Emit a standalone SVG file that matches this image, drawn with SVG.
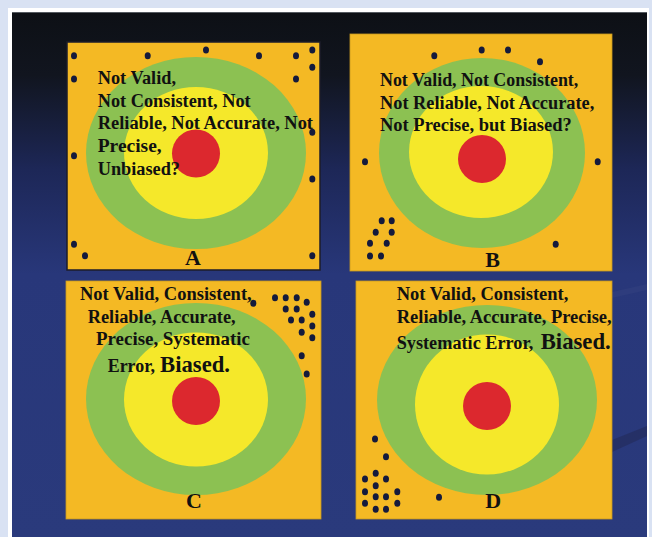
<svg xmlns="http://www.w3.org/2000/svg" width="652" height="537" viewBox="0 0 652 537">
<defs>
<linearGradient id="bg" x1="0" y1="12" x2="0" y2="537" gradientUnits="userSpaceOnUse">
<stop offset="0" stop-color="#0d1015"/>
<stop offset="0.12" stop-color="#11151f"/>
<stop offset="0.3" stop-color="#1d2757"/>
<stop offset="0.5" stop-color="#28377a"/>
<stop offset="1" stop-color="#2a3a7c"/>
</linearGradient>
</defs>
<style>
.panel{fill:#f4b924}
.g{fill:#8cc152}
.y{fill:#f5e82a}
.r{fill:#dc282e}
.dot{fill:#141a3c}
.t{font-family:"Liberation Serif","Times New Roman",serif;font-weight:bold;font-size:18px;fill:#111111}
.big{font-size:22.5px}
.lbl{font-family:"Liberation Serif","Times New Roman",serif;font-weight:bold;font-size:22px;fill:#111111;text-anchor:middle}
</style>
<rect x="0" y="0" width="652" height="537" fill="#d9e2f3"/>
<rect x="8" y="8" width="641" height="529" fill="#ffffff"/>
<rect x="12" y="12" width="635" height="525" fill="url(#bg)"/>
<line x1="12" y1="12.5" x2="647" y2="12.5" stroke="#555a60" stroke-width="1"/>
<polygon points="612,440 647,426 647,436 612,452" fill="#232c5e" opacity="0.7"/>
<polygon points="612,292 647,284 647,290 612,298" fill="#33427f" opacity="0.5"/>

<g id="panel-A">
<rect class="panel" x="67" y="42" width="253" height="228" stroke="#1d1d2a" stroke-width="1.5"/>
<ellipse class="g" cx="196" cy="153" rx="110" ry="96"/>
<ellipse class="y" cx="196" cy="153" rx="72" ry="66"/>
<circle class="r" cx="196" cy="153.5" r="24"/>
<g class="dots">
<ellipse class="dot" cx="74" cy="55.7" rx="3" ry="3.5"/>
<ellipse class="dot" cx="147.7" cy="55.7" rx="3" ry="3.5"/>
<ellipse class="dot" cx="206" cy="50" rx="3" ry="3.5"/>
<ellipse class="dot" cx="259" cy="55.7" rx="3" ry="3.5"/>
<ellipse class="dot" cx="296" cy="55.7" rx="3" ry="3.5"/>
<ellipse class="dot" cx="312.3" cy="50" rx="3" ry="3.5"/>
<ellipse class="dot" cx="312.3" cy="67.3" rx="3" ry="3.5"/>
<ellipse class="dot" cx="74" cy="79" rx="3" ry="3.5"/>
<ellipse class="dot" cx="296" cy="79" rx="3" ry="3.5"/>
<ellipse class="dot" cx="312.3" cy="132.3" rx="3" ry="3.5"/>
<ellipse class="dot" cx="74" cy="155.7" rx="3" ry="3.5"/>
<ellipse class="dot" cx="312.3" cy="179" rx="3" ry="3.5"/>
<ellipse class="dot" cx="74" cy="244.3" rx="3" ry="3.5"/>
<ellipse class="dot" cx="85" cy="255.7" rx="3" ry="3.5"/>
<ellipse class="dot" cx="312.3" cy="255.7" rx="3" ry="3.5"/>
</g>
<text class="t" x="97.7" y="84.3" textLength="78.3" lengthAdjust="spacingAndGlyphs">Not Valid,</text>
<text class="t" x="97.7" y="106.8" textLength="153" lengthAdjust="spacingAndGlyphs">Not Consistent, Not</text>
<text class="t" x="97.7" y="129.3" textLength="215.3" lengthAdjust="spacingAndGlyphs">Reliable, Not Accurate, Not</text>
<text class="t" x="97.7" y="152.3" textLength="64" lengthAdjust="spacingAndGlyphs">Precise,</text>
<text class="t" x="97.7" y="175" textLength="82.3" lengthAdjust="spacingAndGlyphs">Unbiased?</text>
<text class="lbl" x="193" y="265">A</text>
</g>

<g id="panel-B">
<rect class="panel" x="350" y="34" width="262" height="237" stroke="#c99a20" stroke-width="0.8"/>
<ellipse class="g" cx="482" cy="153" rx="103" ry="95"/>
<ellipse class="y" cx="481" cy="152" rx="72" ry="66"/>
<circle class="r" cx="482" cy="159" r="24"/>
<g class="dots">
<ellipse class="dot" cx="434.3" cy="55.7" rx="3" ry="3.5"/>
<ellipse class="dot" cx="481.7" cy="50" rx="3" ry="3.5"/>
<ellipse class="dot" cx="508" cy="50" rx="3" ry="3.5"/>
<ellipse class="dot" cx="540" cy="61.7" rx="3" ry="3.5"/>
<ellipse class="dot" cx="365" cy="161.7" rx="3" ry="3.5"/>
<ellipse class="dot" cx="597.7" cy="161.7" rx="3" ry="3.5"/>
<ellipse class="dot" cx="381.7" cy="220.7" rx="3" ry="3.5"/>
<ellipse class="dot" cx="391.7" cy="220.7" rx="3" ry="3.5"/>
<ellipse class="dot" cx="375.7" cy="232.3" rx="3" ry="3.5"/>
<ellipse class="dot" cx="391.7" cy="232.3" rx="3" ry="3.5"/>
<ellipse class="dot" cx="370" cy="243.3" rx="3" ry="3.5"/>
<ellipse class="dot" cx="386.7" cy="243.3" rx="3" ry="3.5"/>
<ellipse class="dot" cx="370" cy="256" rx="3" ry="3.5"/>
<ellipse class="dot" cx="381" cy="256" rx="3" ry="3.5"/>
<ellipse class="dot" cx="555.7" cy="244.3" rx="3" ry="3.5"/>
</g>
<text class="t" x="380" y="86" textLength="198.3" lengthAdjust="spacingAndGlyphs">Not Valid, Not Consistent,</text>
<text class="t" x="380" y="108.5" textLength="214.3" lengthAdjust="spacingAndGlyphs">Not Reliable, Not Accurate,</text>
<text class="t" x="380" y="131" textLength="191.7" lengthAdjust="spacingAndGlyphs">Not Precise, but Biased?</text>
<text class="lbl" x="492.5" y="267.3">B</text>
</g>

<g id="panel-C">
<rect class="panel" x="66" y="281" width="255" height="238" stroke="#c99a20" stroke-width="0.8"/>
<ellipse class="g" cx="196" cy="399" rx="110" ry="96"/>
<ellipse class="y" cx="196" cy="399.5" rx="72" ry="67"/>
<circle class="r" cx="196" cy="401" r="24"/>
<g class="dots">
<ellipse class="dot" cx="253.3" cy="303.3" rx="3" ry="3.5"/>
<ellipse class="dot" cx="275" cy="297.7" rx="3" ry="3.5"/>
<ellipse class="dot" cx="285.7" cy="297.7" rx="3" ry="3.5"/>
<ellipse class="dot" cx="296.7" cy="297.7" rx="3" ry="3.5"/>
<ellipse class="dot" cx="306.7" cy="302.3" rx="3" ry="3.5"/>
<ellipse class="dot" cx="285.7" cy="309" rx="3" ry="3.5"/>
<ellipse class="dot" cx="296.7" cy="309" rx="3" ry="3.5"/>
<ellipse class="dot" cx="312.3" cy="314.3" rx="3" ry="3.5"/>
<ellipse class="dot" cx="291" cy="320" rx="3" ry="3.5"/>
<ellipse class="dot" cx="301.7" cy="320" rx="3" ry="3.5"/>
<ellipse class="dot" cx="312.3" cy="326" rx="3" ry="3.5"/>
<ellipse class="dot" cx="301.7" cy="332.3" rx="3" ry="3.5"/>
<ellipse class="dot" cx="312.3" cy="337.7" rx="3" ry="3.5"/>
<ellipse class="dot" cx="301.7" cy="355.7" rx="3" ry="3.5"/>
<ellipse class="dot" cx="306.7" cy="374" rx="3" ry="3.5"/>
</g>
<text class="t" x="80" y="300" textLength="171.7" lengthAdjust="spacingAndGlyphs">Not Valid, Consistent,</text>
<text class="t" x="87.7" y="322.7" textLength="148" lengthAdjust="spacingAndGlyphs">Reliable, Accurate,</text>
<text class="t" x="96" y="345" textLength="154" lengthAdjust="spacingAndGlyphs">Precise, Systematic</text>
<text class="t" x="107.7" y="371.7" textLength="47.3" lengthAdjust="spacingAndGlyphs">Error,</text>
<text class="t big" x="160" y="371.7" textLength="70" lengthAdjust="spacingAndGlyphs">Biased.</text>
<text class="lbl" x="194" y="508">C</text>
</g>

<g id="panel-D">
<rect class="panel" x="356" y="281" width="256" height="238" stroke="#c99a20" stroke-width="0.8"/>
<ellipse class="g" cx="487" cy="400" rx="110" ry="95"/>
<ellipse class="y" cx="487" cy="404.5" rx="72" ry="70"/>
<circle class="r" cx="487" cy="406" r="24"/>
<g class="dots">
<ellipse class="dot" cx="375" cy="439" rx="3" ry="3.5"/>
<ellipse class="dot" cx="386" cy="456.7" rx="3" ry="3.5"/>
<ellipse class="dot" cx="365" cy="479" rx="3" ry="3.5"/>
<ellipse class="dot" cx="375.7" cy="473.3" rx="3" ry="3.5"/>
<ellipse class="dot" cx="386" cy="479" rx="3" ry="3.5"/>
<ellipse class="dot" cx="375.7" cy="485.7" rx="3" ry="3.5"/>
<ellipse class="dot" cx="365" cy="491.7" rx="3" ry="3.5"/>
<ellipse class="dot" cx="397.3" cy="491.7" rx="3" ry="3.5"/>
<ellipse class="dot" cx="375.7" cy="496.7" rx="3" ry="3.5"/>
<ellipse class="dot" cx="386" cy="496.7" rx="3" ry="3.5"/>
<ellipse class="dot" cx="365" cy="503.3" rx="3" ry="3.5"/>
<ellipse class="dot" cx="397.3" cy="503.3" rx="3" ry="3.5"/>
<ellipse class="dot" cx="375.7" cy="509.3" rx="3" ry="3.5"/>
<ellipse class="dot" cx="386" cy="509.3" rx="3" ry="3.5"/>
<ellipse class="dot" cx="439" cy="497.3" rx="3" ry="3.5"/>
</g>
<text class="t" x="396.7" y="300" textLength="171.7" lengthAdjust="spacingAndGlyphs">Not Valid, Consistent,</text>
<text class="t" x="396.7" y="322.7" textLength="215" lengthAdjust="spacingAndGlyphs">Reliable, Accurate, Precise,</text>
<text class="t" x="396.7" y="349" textLength="136.7" lengthAdjust="spacingAndGlyphs">Systematic Error,</text>
<text class="t big" x="540.7" y="349" textLength="70" lengthAdjust="spacingAndGlyphs">Biased.</text>
<text class="lbl" x="493.3" y="508">D</text>
</g>
</svg>
